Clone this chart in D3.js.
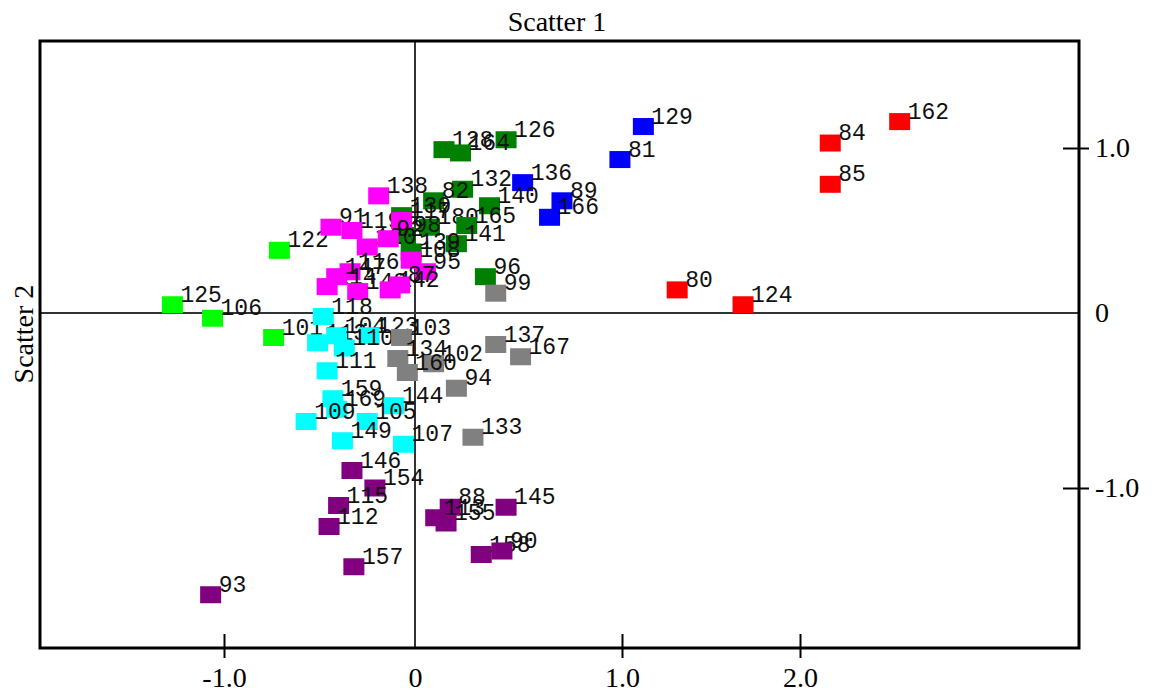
<!DOCTYPE html>
<html>
<head>
<meta charset="utf-8">
<script src="https://cdn.jsdelivr.net/npm/d3@7"></script>
<style>
  html, body { margin: 0; padding: 0; background: #fff; }
  svg { display: block; }
</style>
</head>
<body>
<svg id="chart" width="1159" height="696"></svg>
<script>
// ---------- DATA ----------
const xTicks = [-1, 0, 1, 2];
const yTicks = [-1, 0, 1];
const xTickLabels = ["-1.0", "0", "1.0", "2.0"];
const yTickLabels = ["-1.0", "0", "1.0"];
const titleText = "Scatter 1";
const yTitleText = "Scatter 2";

const groupNames  = ["red", "blue", "darkgreen", "lime", "magenta", "cyan", "grey", "purple"];
const groupColors = ["#ff0000", "#0000ff", "#008000", "#00ff00", "#ff00ff", "#00ffff", "#808080", "#800080"];

const redLabels = ["162", "84", "85", "80", "124"];
const redX = [2.56, 2.17, 2.17, 1.31, 1.68];
const redY = [1.16, 1.03, 0.78, 0.14, 0.05];

const blueLabels = ["129", "81", "136", "89", "166"];
const blueX = [1.12, 0.99, 0.52, 0.71, 0.65];
const blueY = [1.13, 0.93, 0.79, 0.68, 0.58];

const dgreenLabels = ["126", "128", "164", "132", "82", "140", "130", "180", "98", "165", "141", "139", "96"];
const dgreenX = [0.44, 0.14, 0.22, 0.23, 0.09, 0.36, -0.07, 0.07, -0.05, 0.25, 0.20, -0.02, 0.34];
const dgreenY = [1.05, 0.99, 0.97, 0.75, 0.68, 0.65, 0.59, 0.52, 0.47, 0.53, 0.42, 0.37, 0.22];

const limeLabels = ["122", "125", "106", "101"];
const limeX = [-0.71, -1.27, -1.06, -0.74];
const limeY = [0.38, 0.05, -0.03, -0.14];

const magentaLabels = ["138", "91", "119", "117", "120", "92", "108", "95", "116", "114", "148", "142", "87", "147"];
const magentaX = [-0.19, -0.44, -0.33, -0.07, -0.25, -0.14, -0.02, 0.05, -0.34, -0.46, -0.30, -0.13, -0.08, -0.41];
const magentaY = [0.71, 0.52, 0.50, 0.56, 0.40, 0.45, 0.32, 0.25, 0.25, 0.16, 0.13, 0.14, 0.17, 0.22];

const cyanLabels = ["118", "113", "104", "123", "110", "111", "159", "169", "109", "144", "105", "149", "107"];
const cyanX = [-0.48, -0.51, -0.41, -0.24, -0.37, -0.46, -0.43, -0.41, -0.57, -0.11, -0.25, -0.38, -0.06];
const cyanY = [-0.02, -0.17, -0.13, -0.13, -0.20, -0.33, -0.49, -0.55, -0.62, -0.53, -0.62, -0.73, -0.75];

const greyLabels = ["99", "137", "167", "103", "134", "102", "160", "94", "133"];
const greyX = [0.39, 0.39, 0.51, -0.07, -0.09, 0.09, -0.04, 0.20, 0.28];
const greyY = [0.12, -0.18, -0.25, -0.14, -0.26, -0.29, -0.34, -0.43, -0.71];

const purpleLabels = ["146", "154", "115", "112", "157", "93", "88", "113", "155", "145", "158", "90"];
const purpleX = [-0.33, -0.21, -0.40, -0.45, -0.32, -1.07, 0.17, 0.10, 0.15, 0.44, 0.32, 0.42];
const purpleY = [-0.90, -1.00, -1.10, -1.22, -1.45, -1.61, -1.11, -1.17, -1.20, -1.11, -1.38, -1.36];

const seriesLabels = [redLabels, blueLabels, dgreenLabels, limeLabels, magentaLabels, cyanLabels, greyLabels, purpleLabels];
const seriesX = [redX, blueX, dgreenX, limeX, magentaX, cyanX, greyX, purpleX];
const seriesY = [redY, blueY, dgreenY, limeY, magentaY, cyanY, greyY, purpleY];

// ---------- LAYOUT ----------
const frame = { left: 40, top: 41, right: 1079, bottom: 648 };
const svg = d3.select("#chart");

// polylinear scales (axis spacing in the reference is not uniform)
const x = d3.scaleLinear().domain([-1, 0, 1, 2]).range([224, 415, 622, 800]);
const y = d3.scaleLinear().domain([-1, 0, 1]).range([488, 313, 148]);

svg.append("rect").attr("width", 1159).attr("height", 696).attr("fill", "#fff");

// zero lines
svg.append("line")
  .attr("x1", x(0)).attr("x2", x(0))
  .attr("y1", frame.top).attr("y2", frame.bottom)
  .attr("stroke", "#333").attr("stroke-width", 2);
svg.append("line")
  .attr("x1", frame.left).attr("x2", frame.right)
  .attr("y1", y(0)).attr("y2", y(0))
  .attr("stroke", "#333").attr("stroke-width", 2);

// points
const points = [];
seriesLabels.forEach((labs, gi) => {
  labs.forEach((lab, i) => {
    points.push({ label: lab, x: seriesX[gi][i], y: seriesY[gi][i], color: groupColors[gi] });
  });
});

const sqW = 21, sqH = 17;
const pg = svg.append("g");
const pt = pg.selectAll("g.pt").data(points).join("g").attr("class", "pt");
pt.append("rect")
  .attr("x", d => x(d.x) - sqW / 2)
  .attr("y", d => y(d.y) - sqH / 2)
  .attr("width", sqW).attr("height", sqH)
  .attr("fill", d => d.color);
pt.append("text")
  .attr("x", d => x(d.x) + 8)
  .attr("y", d => y(d.y) - 3)
  .attr("font-family", "Liberation Mono, monospace")
  .attr("font-size", 23)
  .attr("fill", "#111")
  .text(d => d.label);

// frame
svg.append("rect")
  .attr("x", frame.left).attr("y", frame.top)
  .attr("width", frame.right - frame.left).attr("height", frame.bottom - frame.top)
  .attr("fill", "none").attr("stroke", "#000").attr("stroke-width", 3);

// bottom axis
const xAxis = d3.axisBottom(x)
  .tickValues(xTicks)
  .tickFormat((d, i) => xTickLabels[i])
  .tickSize(24).tickPadding(9);
const gx = svg.append("g").attr("transform", `translate(0,${frame.bottom - 14})`).call(xAxis);
gx.select(".domain").remove();
gx.selectAll(".tick line").attr("stroke", "#000").attr("stroke-width", 2)
  .attr("opacity", d => d === 0 ? 0 : 1);
gx.selectAll(".tick text")
  .attr("font-family", "Liberation Serif, Times New Roman, serif")
  .attr("font-size", 28).attr("fill", "#000");

// right axis
const yAxis = d3.axisRight(y)
  .tickValues(yTicks)
  .tickFormat((d, i) => yTickLabels[i])
  .tickSize(26).tickPadding(6);
const gy = svg.append("g").attr("transform", `translate(${frame.right - 16},0)`).call(yAxis);
gy.select(".domain").remove();
gy.selectAll(".tick line").attr("stroke", "#000").attr("stroke-width", 2)
  .attr("opacity", d => d === 0 ? 0 : 1);
gy.selectAll(".tick text")
  .attr("font-family", "Liberation Serif, Times New Roman, serif")
  .attr("font-size", 28).attr("fill", "#000");

// titles
svg.append("text")
  .attr("x", 557).attr("y", 31)
  .attr("text-anchor", "middle")
  .attr("font-family", "Liberation Serif, Times New Roman, serif")
  .attr("font-size", 28).attr("fill", "#000")
  .text(titleText);
svg.append("text")
  .attr("transform", "translate(33,334) rotate(-90)")
  .attr("text-anchor", "middle")
  .attr("font-family", "Liberation Serif, Times New Roman, serif")
  .attr("font-size", 28).attr("fill", "#000")
  .text(yTitleText);
</script>
</body>
</html>
